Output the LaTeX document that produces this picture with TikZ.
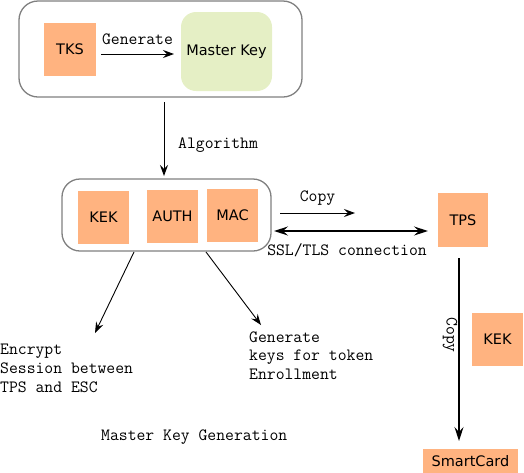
\documentclass[tikz,border=0pt]{standalone}
\usepackage{fontspec}
\setmainfont{DejaVu Sans}
\usetikzlibrary{arrows.meta}
\definecolor{orangefill}{HTML}{FFB380}
\definecolor{greenfill}{HTML}{E5EFC5}
\definecolor{framegray}{HTML}{808080}
\newcommand{\mymono}{\ttfamily\fontsize{17.2}{18.7}\selectfont}
\tikzset{
  keybox/.style={fill=orangefill, draw=none, inner sep=0pt, font=\fontsize{14.5}{17}\selectfont},
  groupbox/.style={draw=framegray, line width=1.3pt, rounded corners=19pt, inner sep=0pt},
  monolabel/.style={inner sep=0pt, font=\mymono},
  thinarrow/.style={line width=0.9pt, -{Stealth[length=11pt,width=8pt,inset=4pt]}},
  thickarrow/.style={line width=1.4pt, -{Stealth[length=14pt,width=9pt,inset=5pt]}},
}
\begin{document}
\begin{tikzpicture}[x=1pt,y=-1pt]
\useasboundingbox (0,0) rectangle (524,472);
% top group
\node[groupbox, minimum width=283pt, minimum height=96pt] (top) at (160.5,49) {};
\node[keybox, minimum width=52pt, minimum height=53pt] (tks) at (70,49.5) {TKS};
\node[fill=greenfill, rounded corners=15pt, inner sep=0pt, minimum width=91pt, minimum height=79pt, font=\fontsize{14.5}{17}\selectfont] (mk) at (226.5,51.5) {Master Key};
\coordinate (genA) at (101,54);
\coordinate (genB) at (174,54);
\draw[thinarrow] (genA) -- node[monolabel, above=9pt] (genlbl) {Generate} (genB);
% algorithm arrow
\coordinate (algA) at (164,102);
\coordinate (algB) at (164,176);
\draw[thinarrow] (algA) -- (algB);
\node[monolabel, anchor=west] (alglbl) at (178,145) {Algorithm};
% second group
\node[groupbox, rounded corners=18pt, minimum width=209pt, minimum height=72pt] (grp) at (166.5,215) {};
\node[keybox, minimum width=51pt, minimum height=53pt] (kek) at (103.5,217.5) {KEK};
\node[keybox, minimum width=51pt, minimum height=53pt] (auth) at (172.5,216.5) {AUTH};
\node[keybox, minimum width=51pt, minimum height=53pt] (mac) at (232.5,215.5) {MAC};
% TPS
\node[keybox, minimum width=50pt, minimum height=54pt] (tps) at (463,220) {TPS};
\coordinate (cpA) at (280,213);
\coordinate (cpB) at (355,213);
\draw[thinarrow] (cpA) -- node[monolabel, above=7pt] (cplbl) {Copy} (cpB);
\coordinate (sslA) at (274,231);
\coordinate (sslB) at (428,231);
\draw[line width=1.4pt, {Stealth[length=14pt,width=9pt,inset=5pt]}-{Stealth[length=14pt,width=9pt,inset=5pt]}] (sslA) -- (sslB);
\node[monolabel] (ssllbl) at (347,250) {SSL/TLS connection};
% lower arrows
\coordinate (encA) at (134,252);
\coordinate (encB) at (95,333);
\draw[thinarrow] (encA) -- (encB);
\coordinate (genkA) at (206,252);
\coordinate (genkB) at (261,325);
\draw[thinarrow] (genkA) -- (genkB);
\node[monolabel, align=left, anchor=west] (enc) at (0,368.5) {Encrypt\\Session between\\TPS and ESC};
\node[monolabel, align=left, anchor=west] (genk) at (249,355.5) {Generate\\keys for token\\Enrollment};
\node[monolabel, anchor=west] (title) at (101,437.5) {Master Key Generation};
% TPS to smartcard
\node[keybox, minimum width=95pt, minimum height=24pt] (sc) at (470.5,461) {SmartCard};
\node[keybox, minimum width=51pt, minimum height=53pt] (kek2) at (497.5,339.5) {KEK};
\coordinate (tpsA) at (459,258);
\coordinate (tpsB) at (459,441);
\draw[thickarrow] (tpsA) -- (tpsB);
\node[monolabel, rotate=-90] (cp2lbl) at (450,335) {Copy};
\end{tikzpicture}
\end{document}
